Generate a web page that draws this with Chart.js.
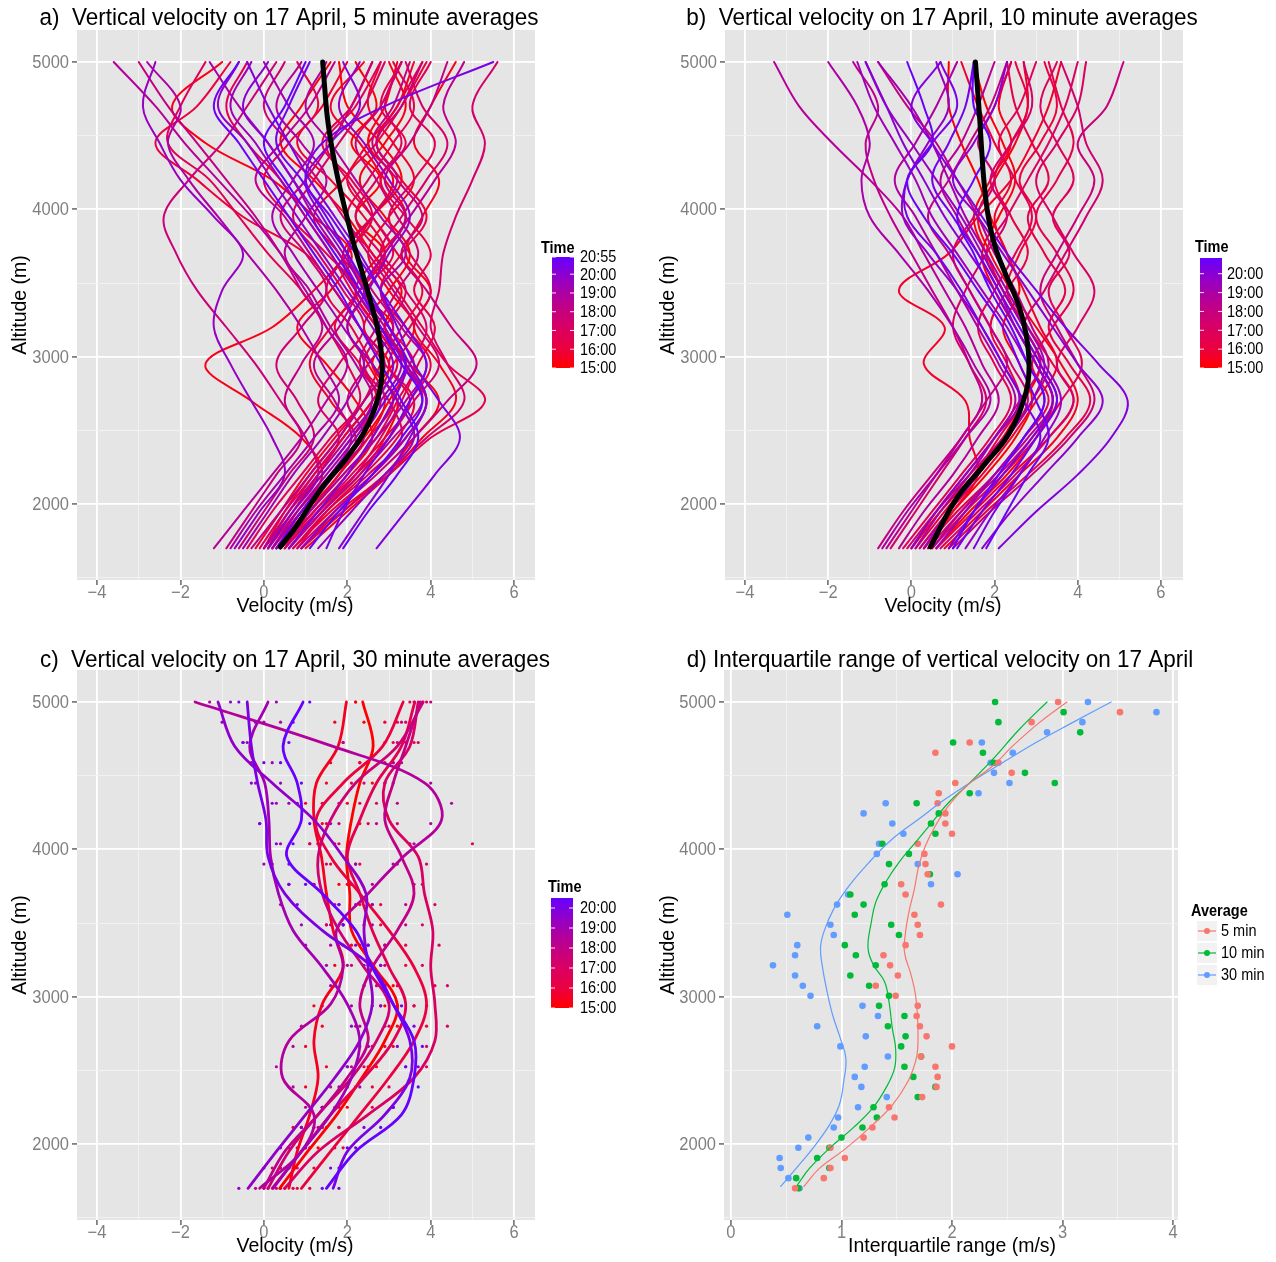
<!DOCTYPE html>
<html>
<head>
<meta charset="utf-8">
<title>Vertical velocity on 17 April</title>
<script src="https://cdn.jsdelivr.net/npm/chart.js"></script>
<style>
  html, body { margin: 0; padding: 0; background: #ffffff; }
  body { position: relative; width: 1276px; height: 1262px; overflow: hidden; }
  canvas { position: absolute; }
</style>
</head>
<body>
<canvas id="pa" width="648" height="640" style="left:0;top:0"></canvas>
<canvas id="pb" width="628" height="640" style="left:648px;top:0"></canvas>
<canvas id="pc" width="648" height="622" style="left:0;top:640px"></canvas>
<canvas id="pd" width="628" height="622" style="left:648px;top:640px"></canvas>
<script>
// ---------------------------------------------------------------------------
// Data
// ---------------------------------------------------------------------------

// Altitude levels (m) at which each velocity profile is given
const altA = [1700, 1950, 2200, 2450, 2700, 2950, 3200, 3450, 3700, 3950, 4200, 4450, 4700, 5000];

// a) 5 minute averages: start time of each profile and its velocities (m/s)
const timesA = ['15:00','15:05','15:10','15:15','15:20','15:25','15:30','15:35','15:40','15:45','15:50','15:55',
  '16:05','16:10','16:15','16:20','16:25','16:30','16:35','16:40','16:45','16:55','17:00','17:10','17:15','17:25',
  '17:30','17:40','17:45','17:50','17:55','18:00','18:10','18:15','18:25','18:30','18:40','18:45','18:55','19:00',
  '19:10','19:15','19:25','19:35','19:40','19:45','19:55','20:05','20:15','20:25','20:35','20:45','20:55'];
const velA = [
  [0.6, 1.4, 2.3, 2.9, 3.2, 2.6, 3.1, 2.4, 2.9, 2.2, 2.8, 2.1, 2.7, 2.2],
  [0.3, 0.9, 1.6, 2.4, 3.0, 3.4, 2.8, 2.2, 1.9, 2.6, 3.3, 2.8, 2.0, 1.8],
  [0.9, 1.8, 2.9, 3.6, 4.2, 3.5, 2.9, 3.3, 2.6, 2.0, 1.2, 0.4, 0.9, 1.6],
  [0.1, 0.7, 1.3, 1.9, 2.6, 3.0, 2.4, 3.0, 3.5, 2.9, 2.3, 2.9, 3.4, 3.0],
  [0.4, 1.2, 2.0, 2.6, 2.2, 1.5, 0.8, 1.6, 2.1, 1.2, 0.2, -1.4, -2.2, -1.0],
  [0.2, 0.8, 1.4, 0.9, -0.3, -1.4, 0.2, 1.2, 2.0, 2.6, 3.1, 2.5, 2.9, 3.2],
  [1.0, 2.0, 3.0, 3.8, 4.6, 4.2, 3.6, 4.0, 3.4, 3.8, 4.2, 3.6, 4.0, 4.6],
  [0.5, 1.1, 1.8, 2.5, 2.9, 2.5, 2.0, 2.4, 1.8, 1.2, 1.9, 2.5, 3.2, 3.6],
  [0.0, 0.5, 1.1, 1.8, 2.4, 3.1, 3.6, 3.0, 2.5, 3.0, 3.6, 3.1, 2.5, 2.8],
  [0.7, 1.6, 2.6, 3.4, 3.9, 3.3, 2.7, 2.2, 2.8, 3.4, 2.9, 2.3, 1.6, 2.4],
  [0.3, 1.0, 1.8, 2.2, 1.6, 1.1, 1.6, 2.3, 2.9, 2.4, 1.6, 0.8, 1.4, 2.0],
  [-0.2, 0.4, 1.0, 1.7, 2.4, 2.8, 3.3, 3.8, 3.2, 2.6, 2.0, 2.7, 3.3, 3.9],
  [0.8, 1.5, 2.4, 3.2, 3.6, 2.9, 2.3, 1.7, 1.0, -0.5, -1.6, -2.6, -1.6, -0.8],
  [0.4, 1.3, 2.2, 3.0, 3.5, 4.0, 3.4, 2.8, 3.3, 3.9, 3.3, 2.7, 3.2, 3.8],
  [0.1, 0.6, 1.4, 2.1, 2.7, 2.3, 1.7, 2.2, 1.5, 0.6, 0.0, 0.6, 1.3, 0.8],
  [0.6, 1.4, 2.2, 2.8, 3.3, 3.7, 4.1, 3.6, 4.0, 3.4, 2.8, 3.4, 2.8, 3.3],
  [0.2, 0.9, 1.7, 2.5, 3.1, 2.6, 2.1, 1.5, 2.0, 2.6, 2.1, 1.4, 2.1, 2.6],
  [0.9, 1.9, 3.0, 4.0, 5.3, 4.4, 3.8, 3.2, 2.6, 2.0, 2.5, 3.1, 3.6, 3.1],
  [0.0, 0.6, 1.2, 1.9, 2.6, 3.2, 2.7, 2.1, 1.6, 1.0, 0.4, -0.4, -0.9, -0.4],
  [0.5, 1.3, 2.1, 2.9, 3.5, 3.0, 3.5, 4.0, 3.5, 3.0, 3.6, 4.1, 3.5, 4.0],
  [-0.4, 0.2, 0.9, 1.6, 2.3, 2.0, 1.5, 0.9, 0.1, -0.6, -1.3, -2.3, -2.0, -1.4],
  [0.3, 1.1, 1.9, 2.7, 3.2, 3.6, 3.0, 2.5, 3.1, 2.6, 2.0, 1.5, 2.2, 2.8],
  [0.7, 1.5, 2.5, 3.3, 3.0, 2.4, 2.9, 3.4, 2.8, 2.2, 2.7, 3.3, 2.9, 3.3],
  [-0.1, 0.5, 1.2, 1.8, 1.3, 1.8, 2.4, 1.9, 1.3, 0.7, 1.2, 1.8, 2.4, 2.9],
  [0.4, 1.2, 2.0, 2.6, 3.1, 3.5, 3.9, 3.4, 2.8, 3.3, 3.9, 4.4, 3.8, 3.4],
  [0.9, 1.9, 2.9, 3.9, 4.8, 4.4, 4.0, 4.2, 4.3, 4.6, 5.0, 5.3, 5.0, 5.6],
  [0.1, 0.8, 1.6, 2.3, 2.8, 2.3, 2.7, 3.2, 3.7, 3.2, 2.7, 2.2, 2.8, 3.3],
  [0.5, 1.3, 2.2, 3.0, 3.6, 4.2, 3.7, 3.1, 2.5, 1.9, 1.3, 0.6, 0.0, 0.5],
  [-0.6, 0.0, 0.6, 1.2, 0.8, 0.3, 0.9, 1.5, 1.0, 0.4, 1.0, 1.6, 2.1, 2.6],
  [0.0, 0.7, 1.3, 1.0, 0.4, -0.2, -0.9, -1.6, -2.1, -2.4, -1.8, -1.0, -0.4, 0.3],
  [0.3, 1.0, 1.7, 2.4, 2.0, 2.5, 3.1, 2.6, 2.0, 2.6, 3.2, 2.7, 3.3, 3.8],
  [0.8, 1.7, 2.7, 3.6, 4.4, 5.1, 4.5, 3.9, 3.3, 3.8, 3.2, 2.6, 3.1, 3.5],
  [-0.9, -0.3, 0.3, 0.9, 0.5, 0.9, 1.4, 0.9, 0.4, -0.2, -0.9, -1.6, -2.3, -3.0],
  [0.2, 0.9, 1.6, 2.1, 1.7, 1.2, 1.8, 2.3, 2.9, 3.4, 2.9, 3.5, 4.0, 4.4],
  [-0.3, 0.4, 1.1, 1.8, 2.4, 2.9, 2.3, 1.7, 1.1, 0.5, -0.2, 0.4, 1.1, 1.7],
  [0.6, 1.4, 2.3, 3.1, 3.8, 3.4, 2.9, 2.4, 2.9, 3.5, 4.1, 4.6, 4.3, 4.8],
  [-1.2, -0.5, 0.2, 0.9, 1.5, 2.0, 1.5, 1.0, 0.4, -0.3, -1.1, -1.9, -2.6, -3.6],
  [0.0, 0.6, 1.3, 2.0, 2.6, 2.2, 1.6, 1.1, 0.5, 1.0, 1.5, 0.9, 0.3, 0.9],
  [0.4, 1.1, 1.9, 2.7, 3.4, 3.9, 3.3, 2.8, 3.4, 2.8, 2.2, 1.6, 1.0, 1.5],
  [-0.8, -0.2, 0.5, 1.2, 1.8, 1.4, 0.9, 0.3, -0.4, -1.1, -1.8, -2.3, -2.0, -2.8],
  [0.2, 0.8, 1.5, 2.2, 2.8, 3.3, 2.8, 2.3, 1.8, 1.2, 0.7, 0.1, -0.6, -1.3],
  [-0.5, 0.1, 0.7, 1.4, 2.0, 2.4, 1.9, 1.3, 0.7, 0.2, 0.7, 1.2, 0.6, 0.0],
  [0.9, 1.7, 2.6, 3.4, 3.9, 3.4, 2.8, 2.2, 1.6, 1.0, 0.4, -0.2, -0.8, -0.3],
  [1.3, 2.1, 2.9, 3.6, 3.2, 2.6, 2.0, 2.5, 3.0, 3.5, 3.0, 2.4, 1.8, 2.3],
  [-0.7, -0.1, 0.5, 0.2, -0.3, -0.8, -1.2, -1.0, -0.5, -1.2, -2.0, -2.5, -2.9, -2.6],
  [0.1, 0.7, 1.4, 2.1, 2.7, 3.1, 2.6, 2.0, 1.4, 0.8, 0.2, -0.4, -1.1, -0.6],
  [1.8, 2.4, 3.0, 3.5, 3.9, 3.5, 3.0, 2.4, 1.9, 1.3, 0.7, 0.1, -0.5, 0.1],
  [0.6, 1.3, 2.0, 2.6, 3.1, 3.4, 3.0, 2.5, 2.0, 1.4, 1.0, 1.6, 2.3, 1.9],
  [2.7, 3.4, 4.1, 4.7, 4.2, 3.6, 3.2, 2.8, 2.3, 1.7, 1.1, 0.6, 0.1, -0.4],
  [1.5, 1.9, 2.4, 3.0, 3.5, 3.9, 3.4, 2.8, 2.2, 1.6, 1.0, 1.4, 2.9, 5.5],
  [0.3, 0.9, 1.6, 2.3, 2.9, 3.4, 3.0, 2.5, 2.0, 1.5, 0.9, 0.3, 0.6, 1.1],
  [1.9, 2.5, 3.2, 3.7, 3.3, 2.8, 2.3, 1.8, 1.2, 0.6, 0.0, -0.6, -1.2, -0.6],
  [1.1, 1.8, 2.6, 3.3, 3.8, 3.3, 2.8, 2.3, 1.7, 1.1, 0.5, 0.0, 0.5, 1.0]
];
// a) smoothed mean profile
const meanAltA = [1710, 1850, 2000, 2140, 2300, 2480, 2650, 2819, 2977, 3160, 3384, 3550, 3750, 3950, 4176, 4403, 4629, 4855, 5000];
const meanVelA = [0.39, 0.78, 1.12, 1.47, 1.95, 2.39, 2.66, 2.81, 2.83, 2.75, 2.55, 2.38, 2.17, 1.99, 1.80, 1.64, 1.52, 1.45, 1.41];

// b) 10 minute averages
const timesB = ['15:00','15:10','15:20','15:30','15:40','15:50','16:00','16:10','16:20','16:30','16:40','16:50',
  '17:00','17:10','17:20','17:30','17:40','17:50','18:00','18:10','18:20','18:30','18:40','18:50',
  '19:00','19:10','19:20','19:30','19:40','19:50','20:00','20:10','20:20','20:30','20:40','20:50'];
const velB = [
  [0.3, 1.0, 1.8, 2.5, 2.9, 2.6, 2.2, 2.6, 2.3, 1.9, 1.6, 1.2, 0.9, 0.9],
  [0.6, 1.4, 2.3, 3.0, 3.4, 3.0, 2.5, 2.0, 1.7, 2.1, 2.5, 2.2, 1.8, 1.5],
  [0.0, 0.7, 1.5, 2.2, 2.7, 3.1, 2.7, 2.2, 1.8, 1.5, 1.9, 2.4, 2.1, 2.4],
  [0.8, 1.7, 2.6, 3.5, 4.0, 3.6, 3.0, 2.4, 1.9, 1.6, 2.0, 2.5, 2.8, 2.7],
  [0.4, 1.0, 1.6, 1.4, 1.3, 0.3, 0.8, -0.3, 0.9, 1.6, 2.4, 2.9, 3.3, 3.6],
  [0.2, 0.9, 1.7, 2.4, 3.0, 3.5, 3.1, 2.7, 2.3, 2.0, 2.4, 2.0, 1.6, 1.2],
  [0.6, 1.5, 2.4, 3.3, 3.9, 3.4, 2.8, 2.3, 2.6, 3.0, 2.6, 3.1, 3.5, 3.2],
  [0.1, 0.8, 1.5, 2.1, 2.6, 2.3, 1.9, 2.3, 2.8, 2.4, 2.0, 2.4, 2.8, 2.5],
  [0.9, 1.8, 2.8, 3.7, 4.3, 3.8, 3.3, 3.7, 3.2, 2.8, 3.3, 2.9, 2.5, 2.3],
  [0.3, 1.1, 2.0, 2.7, 3.3, 2.9, 3.4, 3.9, 3.5, 3.0, 3.5, 3.9, 3.6, 3.3],
  [-0.2, 0.5, 1.2, 1.9, 2.4, 2.0, 1.6, 2.0, 2.5, 2.9, 2.5, 2.1, 2.6, 3.0],
  [0.5, 1.3, 2.2, 3.0, 3.6, 4.1, 3.7, 3.3, 3.8, 3.4, 3.9, 3.5, 3.1, 3.5],
  [0.0, 0.6, 1.3, 2.0, 2.6, 3.1, 2.7, 2.2, 1.8, 2.3, 2.8, 3.3, 3.7, 4.0],
  [0.7, 1.6, 2.5, 3.3, 3.9, 3.5, 4.0, 4.4, 3.9, 3.4, 3.0, 3.5, 4.0, 4.2],
  [-0.5, 0.1, 0.7, 1.3, 1.8, 1.4, 1.0, 1.3, 1.8, 2.3, 1.9, 2.4, 2.9, 2.7],
  [0.4, 1.2, 2.1, 2.9, 3.5, 3.1, 2.7, 3.2, 3.7, 4.2, 4.6, 4.2, 4.0, 3.6],
  [-0.1, 0.6, 1.4, 2.2, 2.8, 2.4, 1.9, 1.4, 1.0, 1.5, 2.0, 1.6, 2.0, 2.4],
  [1.0, 1.9, 2.9, 3.8, 4.4, 4.0, 3.5, 3.1, 3.5, 4.0, 4.4, 4.0, 4.7, 5.1],
  [-0.8, -0.2, 0.5, 1.2, 1.8, 2.3, 1.9, 1.4, 0.9, 0.4, 0.9, 1.4, 1.9, 2.3],
  [0.2, 0.9, 1.6, 2.3, 2.9, 3.3, 2.9, 2.5, 2.0, 1.6, 1.1, 0.6, -0.1, -0.8],
  [-0.6, 0.0, 0.6, 1.2, 1.7, 1.4, 1.0, 0.5, 0.0, -0.5, -0.9, -1.1, -0.8, -1.4],
  [0.5, 1.2, 2.0, 2.8, 3.4, 3.0, 2.5, 2.1, 1.6, 1.1, 0.7, 1.2, 1.6, 2.0],
  [-0.3, 0.3, 1.0, 1.6, 2.1, 1.7, 1.3, 0.8, 0.3, -0.2, -1.0, -1.9, -2.7, -3.3],
  [0.1, 0.7, 1.4, 2.0, 2.5, 2.1, 1.6, 1.1, 0.6, 0.1, -0.4, 0.1, 0.6, 1.1],
  [-0.7, -0.1, 0.6, 1.3, 1.9, 1.5, 1.0, 0.4, -0.3, -1.0, -1.2, -1.0, -1.3, -2.0],
  [0.3, 0.9, 1.6, 2.3, 2.9, 3.2, 2.8, 2.3, 1.8, 1.3, 0.9, 0.5, 0.0, -0.8],
  [0.6, 1.3, 2.0, 2.7, 3.2, 2.8, 2.3, 1.7, 1.1, 0.5, 0.1, -0.4, -0.9, -1.3],
  [1.3, 1.9, 2.6, 3.2, 3.6, 3.2, 2.7, 2.2, 1.7, 1.2, 0.6, 0.0, -0.6, -1.1],
  [0.0, 0.6, 1.3, 2.0, 2.6, 2.2, 1.7, 1.1, 0.4, -0.2, -0.1, 0.4, 0.9, 0.6],
  [1.7, 2.4, 3.2, 4.0, 4.6, 4.0, 3.4, 2.8, 2.2, 1.6, 1.0, 1.5, 2.0, 2.3],
  [0.9, 1.5, 2.2, 2.9, 3.4, 3.0, 2.5, 2.0, 1.4, 0.8, 0.3, -0.2, -0.6, -1.1],
  [2.1, 3.0, 4.0, 4.8, 5.2, 4.5, 3.7, 3.0, 2.3, 1.7, 1.1, 0.5, 0.0, 0.7],
  [1.5, 2.0, 2.6, 3.1, 2.7, 2.2, 1.7, 1.2, 0.6, -0.1, -0.1, 0.5, 1.1, 0.7],
  [1.1, 1.7, 2.4, 3.0, 3.5, 3.1, 2.6, 2.1, 1.6, 1.0, 0.5, 0.9, 1.3, 1.5],
  [1.8, 2.3, 2.8, 3.3, 3.0, 2.6, 2.2, 1.6, 1.0, 0.3, -0.1, 0.5, 0.3, -0.1],
  [1.0, 1.5, 2.1, 2.7, 3.2, 2.8, 2.4, 1.9, 1.5, 1.1, 1.5, 1.9, 1.5, 1.5]
];
const meanAltB = [1710, 2027, 2253, 2480, 2753, 2932, 3150, 3350, 3550, 3750, 3950, 4176, 4403, 4629, 4855, 5000];
const meanVelB = [0.46, 1.06, 1.71, 2.35, 2.75, 2.83, 2.76, 2.58, 2.28, 2.01, 1.85, 1.75, 1.69, 1.64, 1.58, 1.54];

// c) 30 minute averages: smoothed profiles and the raw values behind them
const timesC = ['15:00','15:30','16:00','16:30','17:00','17:30','18:00','18:30','19:00','19:30','20:00','20:30'];
const velC = [
  [0.38, 1.05, 1.75, 2.35, 2.90, 3.20, 2.65, 2.10, 2.06, 1.98, 2.10, 2.30, 2.62, 2.37],
  [0.60, 0.80, 1.10, 1.30, 1.20, 1.40, 1.90, 1.66, 1.50, 1.38, 1.20, 1.26, 1.78, 1.98],
  [0.90, 1.60, 2.30, 3.00, 3.60, 3.90, 3.60, 3.00, 2.30, 1.60, 1.25, 1.90, 2.85, 3.34],
  [0.20, 0.90, 1.60, 2.40, 3.10, 3.40, 3.00, 2.60, 2.30, 2.00, 2.30, 2.70, 3.30, 3.62],
  [0.50, 1.30, 2.50, 3.60, 4.10, 4.10, 4.00, 4.05, 3.85, 3.70, 3.00, 2.90, 3.50, 3.70],
  [0.10, 0.60, 1.30, 2.10, 2.70, 3.00, 2.40, 1.80, 1.40, 1.30, 1.60, 2.20, 3.20, 3.82],
  [0.00, 0.50, 1.30, 2.00, 2.50, 2.30, 2.60, 3.20, 3.60, 3.30, 2.90, 3.10, 3.40, 3.75],
  [-0.10, 0.90, 1.20, 0.45, 0.60, 1.60, 1.90, 1.74, 2.50, 3.34, 4.26, 3.86, 1.64, -1.65],
  [0.22, 0.90, 1.60, 2.10, 2.30, 2.00, 1.40, 0.70, 0.35, 0.16, 0.12, 0.02, -0.34, 0.10],
  [-0.38, 0.30, 1.00, 1.70, 2.30, 2.60, 2.50, 2.40, 2.45, 1.90, 1.20, 0.20, -0.70, -1.10],
  [1.66, 2.00, 2.90, 3.50, 3.50, 3.10, 2.60, 1.40, 0.50, 0.10, 0.05, -0.15, -0.30, -0.40],
  [1.50, 2.20, 3.30, 3.60, 3.60, 3.10, 2.60, 2.20, 1.40, 0.55, 0.90, 0.80, 0.46, 0.94]
];
const altDotsC = [1700, 1838, 1975, 2113, 2250, 2388, 2525, 2663, 2800, 2938, 3075, 3213, 3350,
  3488, 3625, 3763, 3900, 4038, 4175, 4313, 4450, 4588, 4725, 4863, 5000];
const dotsC = [
  [0.5, 0.6, 1.3, 1.4, 2.0, 2.0, 2.7, 2.6, 3.2, 2.9, 3.1, 2.5, 2.5, 1.9, 2.3, 1.8, 2.2, 1.7, 2.3, 2.0, 2.6, 2.3, 2.9, 2.4, 2.2],
  [0.8, 0.4, 1.0, 0.7, 1.4, 1.0, 1.5, 1.0, 1.4, 1.2, 1.7, 1.7, 2.1, 1.5, 1.8, 1.2, 1.6, 1.1, 1.4, 1.0, 1.5, 1.6, 1.9, 1.7, 2.2],
  [1.1, 1.2, 1.9, 1.8, 2.6, 2.6, 3.4, 3.1, 3.9, 3.6, 4.1, 3.4, 3.4, 2.8, 2.8, 2.1, 2.0, 1.3, 1.5, 1.4, 2.1, 2.3, 3.1, 2.9, 3.5],
  [0.0, 0.7, 0.6, 1.4, 1.4, 2.2, 2.4, 2.9, 2.9, 3.6, 3.2, 2.8, 2.9, 2.4, 2.6, 2.0, 2.3, 1.8, 2.5, 2.3, 2.9, 2.9, 3.6, 3.2, 3.8],
  [0.7, 0.8, 1.7, 1.8, 3.1, 3.0, 3.9, 3.9, 4.4, 3.9, 4.4, 3.8, 4.2, 3.8, 4.1, 3.6, 3.9, 5.0, 3.2, 2.7, 3.1, 3.1, 3.7, 3.4, 3.9],
  [0.3, 0.2, 1.0, 0.9, 1.7, 1.6, 2.5, 2.3, 3.0, 2.8, 2.7, 2.1, 2.3, 1.5, 1.7, 1.2, 1.5, 1.1, 1.8, 1.8, 2.4, 2.5, 3.4, 3.3, 4.0],
  [-0.2, 0.4, 0.6, 1.2, 1.4, 2.0, 2.1, 2.6, 2.3, 2.6, 2.4, 2.9, 2.9, 3.4, 3.4, 3.8, 3.2, 3.5, 2.7, 3.2, 2.9, 3.3, 3.2, 3.6, 3.6],
  [0.1, 0.6, 0.8, 1.3, 1.0, 0.7, 0.3, 0.7, 0.9, 1.4, 1.7, 2.0, 1.6, 1.9, 2.2, 2.6, 3.1, 3.6, 4.0, 4.5, 4.0, 3.1, 1.9, 0.4, -1.3],
  [0.4, 0.5, 1.1, 1.5, 1.8, 2.3, 2.0, 2.5, 2.2, 2.1, 1.6, 1.5, 1.0, 0.9, 0.4, 0.6, 0.0, 0.4, -0.1, 0.3, -0.2, 0.2, -0.5, 0.0, 0.3],
  [-0.6, 0.0, 0.4, 0.9, 1.4, 1.8, 2.0, 2.5, 2.1, 2.8, 2.4, 2.8, 2.2, 2.6, 2.6, 2.1, 2.2, 1.3, 1.6, 0.6, 0.4, -0.3, -0.4, -1.0, -0.8],
  [1.8, 1.6, 2.2, 2.4, 3.1, 3.4, 3.7, 3.2, 3.6, 3.2, 2.9, 2.6, 1.9, 1.6, 0.8, 0.6, 0.2, 0.3, -0.1, 0.2, -0.3, 0.0, -0.5, -0.2, -0.6],
  [1.4, 1.8, 2.0, 2.8, 3.1, 3.7, 3.4, 3.8, 3.4, 3.3, 2.9, 2.4, 2.5, 1.9, 1.8, 1.0, 0.6, 0.7, 1.1, 0.8, 0.9, 0.4, 0.6, 0.7, 1.1]
];

// d) interquartile range of the velocity at each level, per averaging period
const altD = [5000, 4931, 4863, 4794, 4725, 4656, 4588, 4519, 4450, 4381, 4313, 4244, 4175, 4106, 4038, 3969,
  3900, 3831, 3763, 3694, 3625, 3556, 3488, 3419, 3350, 3281, 3213, 3144, 3075, 3006, 2938, 2869, 2800,
  2731, 2663, 2594, 2525, 2456, 2388, 2319, 2250, 2181, 2113, 2044, 1975, 1906, 1838, 1769, 1700];
const iqr5 = [2.96, 3.52, 2.72, null, 2.16, 1.85, 2.42, 2.54, 2.03, 1.88, 1.87, 1.94, 1.94, 2.00, 1.69, 1.75,
  1.76, 1.78, 1.54, 1.58, 1.90, 1.66, 1.69, 1.71, 1.58, 1.38, 1.44, 1.51, 1.31, 1.49, 1.69, 1.68, 1.71,
  1.77, 2.00, 1.72, 1.85, 1.87, 1.86, 1.73, 1.43, 1.48, 1.28, 1.20, 0.90, 1.03, 0.90, 0.84, 0.58];
const iqr10 = [2.39, 3.01, 2.42, 3.16, 2.01, 2.28, 2.38, 2.66, 2.93, 2.16, 1.68, 1.88, 1.81, 1.85, 1.37, 1.61,
  1.43, 1.80, 1.39, 1.08, 1.20, 1.12, 1.45, 1.52, 1.03, 1.13, 1.31, 1.08, 1.25, 1.43, 1.34, 1.57, 1.42,
  1.58, 1.54, 1.72, 1.57, 1.65, 1.85, 1.69, 1.29, 1.32, 1.19, 1.00, 0.89, 0.78, 0.89, 0.59, 0.61];
const iqr30 = [3.23, 3.85, 3.18, 2.86, 2.27, 2.55, 2.35, 2.38, 2.52, 2.24, 1.40, 1.20, 1.46, 1.56, 1.34, 1.32,
  1.69, 2.05, 1.81, 1.06, 0.96, 0.51, 0.90, 0.93, 0.60, 0.58, 0.38, 0.58, 0.65, 0.72, 1.19, 1.33, 0.78,
  1.22, 0.99, 1.42, 1.21, 1.12, 1.18, 1.41, 1.15, 0.97, 0.93, 0.70, 0.61, 0.44, 0.45, 0.52, 0.62];
// smoothed fits through the interquartile ranges
const smoothAlt5 = [1713, 1835, 1971, 2129, 2265, 2423, 2559, 2649, 2830, 3011, 3147, 3303, 3438, 3574, 3732, 3890, 4025, 4160, 4296, 4436, 4567, 4702, 4860, 5000];
const smooth5 = [0.66, 0.80, 1.04, 1.28, 1.46, 1.60, 1.67, 1.69, 1.69, 1.67, 1.63, 1.57, 1.58, 1.61, 1.66, 1.70, 1.76, 1.85, 1.97, 2.14, 2.37, 2.55, 2.79, 3.04];
const smoothAlt10 = [1722, 1835, 1971, 2107, 2242, 2378, 2514, 2649, 2785, 2966, 3102, 3215, 3330, 3506, 3641, 3777, 3912, 4048, 4183, 4318, 4436, 4612, 4815, 5000];
const smooth10 = [0.60, 0.71, 0.89, 1.10, 1.28, 1.40, 1.48, 1.49, 1.46, 1.43, 1.39, 1.29, 1.24, 1.27, 1.31, 1.40, 1.52, 1.67, 1.82, 1.97, 2.14, 2.37, 2.61, 2.86];
const smoothAlt30 = [1713, 1835, 1971, 2129, 2265, 2423, 2582, 2717, 2876, 3034, 3192, 3328, 3438, 3596, 3754, 3912, 4070, 4206, 4341, 4465, 4589, 4725, 4860, 5000];
const smooth30 = [0.45, 0.59, 0.74, 0.89, 0.98, 1.02, 1.04, 0.99, 0.92, 0.87, 0.83, 0.81, 0.84, 0.93, 1.07, 1.25, 1.46, 1.70, 1.94, 2.19, 2.46, 2.76, 3.09, 3.44];

// Axis ticks (grid positions, labelled majors)
const velGrid = [-4, -3, -2, -1, 0, 1, 2, 3, 4, 5, 6];
const velMajor = [-4, -2, 0, 2, 4, 6];
const velLabels = ['\u22124', '\u22122', '0', '2', '4', '6'];
const iqrGrid = [0, 0.5, 1, 1.5, 2, 2.5, 3, 3.5, 4];
const iqrMajor = [0, 1, 2, 3, 4];
const iqrLabels = ['0', '1', '2', '3', '4'];
const altGrid = [1500, 2000, 2500, 3000, 3500, 4000, 4500, 5000];
const altMajor = [2000, 3000, 4000, 5000];
const altLabels = ['2000', '3000', '4000', '5000'];

// Legend breaks
const legendTimesA = ['15:00', '16:00', '17:00', '18:00', '19:00', '20:00', '20:55'];
const legendTimesB = ['15:00', '16:00', '17:00', '18:00', '19:00', '20:00'];
const legendTimesC = ['15:00', '16:00', '17:00', '18:00', '19:00', '20:00'];
const averageNames = ['5 min', '10 min', '30 min'];
const averageColours = ['#F8766D', '#00BA38', '#619CFF'];

// ---------------------------------------------------------------------------
// Helpers
// ---------------------------------------------------------------------------
const FONT = '"Liberation Sans", Arial, Helvetica, sans-serif';
const STRETCH = 1.08;
const GREY_TEXT = '#7F7F7F';

// red (early) to violet (late) colour ramp
const rampStops = [
  [0.00, [255, 0, 0]],
  [0.17, [236, 0, 62]],
  [0.34, [220, 0, 94]],
  [0.51, [198, 0, 126]],
  [0.68, [172, 0, 164]],
  [0.85, [138, 0, 210]],
  [1.00, [102, 0, 255]]
];

function toMin(t) { const p = t.split(':'); return +p[0] * 60 + +p[1]; }

function ramp(f) {
  f = Math.max(0, Math.min(1, f));
  for (let i = 1; i < rampStops.length; i++) {
    const [f1, c1] = rampStops[i];
    const [f0, c0] = rampStops[i - 1];
    if (f <= f1) {
      const k = (f - f0) / (f1 - f0);
      const c = c0.map((v, j) => Math.round(v + (c1[j] - v) * k));
      return `rgb(${c[0]},${c[1]},${c[2]})`;
    }
  }
  const c = rampStops[rampStops.length - 1][1];
  return `rgb(${c[0]},${c[1]},${c[2]})`;
}

function timeColour(t, t0, t1) { return ramp((toMin(t) - toMin(t0)) / (toMin(t1) - toMin(t0))); }

function profile(alts, vals) {
  const pts = [];
  vals.forEach((v, i) => { if (v !== null && v !== undefined) pts.push({ x: v, y: alts[i] }); });
  return pts;
}

function txt(ctx, s, x, y, o) {
  ctx.save();
  ctx.translate(x, y);
  if (o.rot) ctx.rotate(o.rot);
  ctx.scale(1, STRETCH);
  ctx.font = `${o.bold ? 'bold ' : ''}${o.size}px ${FONT}`;
  ctx.fillStyle = o.color || '#000000';
  ctx.textAlign = o.align || 'left';
  ctx.textBaseline = o.base || 'alphabetic';
  ctx.fillText(s, 0, 0);
  ctx.restore();
}

function lineSet(data, colour, width, tension) {
  return { data, borderColor: colour, backgroundColor: colour, borderWidth: width,
    showLine: true, pointRadius: 0, tension: tension === undefined ? 0.35 : tension, fill: false,
    borderCapStyle: 'round', borderJoinStyle: 'round' };
}
function dotSet(data, colour, radius) {
  return { data, borderColor: colour, backgroundColor: colour, borderWidth: 0,
    showLine: false, pointRadius: radius, pointHoverRadius: radius };
}

function drawTimeLegend(ctx, lg) {
  const span = lg.bottom - lg.top;
  const t0 = toMin(lg.tMin), t1 = toMin(lg.tMax);
  const grad = ctx.createLinearGradient(0, lg.bottom, 0, lg.top);
  rampStops.forEach(([f, c]) => grad.addColorStop(f, `rgb(${c[0]},${c[1]},${c[2]})`));
  ctx.fillStyle = grad;
  ctx.fillRect(lg.barX, lg.top, lg.barW, span);
  txt(ctx, 'Time', lg.titleX, lg.titleY, { size: 14.5, bold: true });
  lg.labels.forEach(t => {
    const y = lg.bottom - (toMin(t) - t0) / (t1 - t0) * span;
    ctx.strokeStyle = 'rgba(255,255,255,0.9)';
    ctx.lineWidth = 1;
    ctx.beginPath();
    ctx.moveTo(lg.barX, y); ctx.lineTo(lg.barX + 4, y);
    ctx.moveTo(lg.barX + lg.barW - 4, y); ctx.lineTo(lg.barX + lg.barW, y);
    ctx.stroke();
    txt(ctx, t, lg.labelX, y + 1, { size: 14.5, base: 'middle' });
  });
}

function drawAverageLegend(ctx) {
  txt(ctx, 'Average', 543, 276, { size: 14.5, bold: true });
  averageNames.forEach((name, i) => {
    const top = 281 + i * 22;
    ctx.fillStyle = '#F2F2F2';
    ctx.fillRect(549, top, 20, 20);
    ctx.strokeStyle = averageColours[i];
    ctx.lineWidth = 1.2;
    ctx.beginPath(); ctx.moveTo(550, top + 10); ctx.lineTo(568, top + 10); ctx.stroke();
    ctx.fillStyle = averageColours[i];
    ctx.beginPath(); ctx.arc(559, top + 10, 3, 0, Math.PI * 2); ctx.fill();
    txt(ctx, name, 573, top + 11, { size: 14.5, base: 'middle' });
  });
}

// ---------------------------------------------------------------------------
// Panel builder
// ---------------------------------------------------------------------------
function makePanel(p) {
  const canvas = document.getElementById(p.id);
  const W = canvas.width, H = canvas.height;
  const isMajorX = v => p.xMajor.includes(v);
  const isMajorY = v => altMajor.includes(v);

  const panelPlugin = {
    id: 'panel_' + p.id,
    beforeDraw(chart) {
      const a = chart.chartArea, ctx = chart.ctx;
      ctx.save();
      ctx.fillStyle = '#FFFFFF';
      ctx.fillRect(0, 0, W, H);
      ctx.fillStyle = '#E5E5E5';
      ctx.fillRect(a.left, a.top, a.right - a.left, a.bottom - a.top);
      ctx.restore();
    },
    afterDraw(chart) {
      const ctx = chart.ctx, xs = chart.scales.x, ys = chart.scales.y;
      p.xMajor.forEach((v, i) => txt(ctx, p.xLabels[i], xs.getPixelForValue(v), 598,
        { size: 16.5, color: GREY_TEXT, align: 'center' }));
      altMajor.forEach((v, i) => txt(ctx, altLabels[i], p.box.l - 8, ys.getPixelForValue(v) + 1,
        { size: 16.5, color: GREY_TEXT, align: 'right', base: 'middle' }));
      txt(ctx, p.title, p.titleX, p.titleY, { size: 22.5, align: 'center' });
      txt(ctx, p.xTitle, p.xTitleX, 612, { size: 19.5, align: 'center' });
      txt(ctx, 'Altitude (m)', 20, 305, { size: 19.5, align: 'center', base: 'middle', rot: -Math.PI / 2 });
      p.legend(ctx);
    }
  };

  return new Chart(canvas, {
    type: 'scatter',
    data: { datasets: p.datasets },
    options: {
      responsive: false,
      animation: false,
      devicePixelRatio: 1,
      events: [],
      layout: { padding: { top: p.box.t, right: W - p.box.r, left: 0, bottom: 0 } },
      plugins: { legend: { display: false }, tooltip: { enabled: false } },
      scales: {
        x: {
          type: 'linear', min: p.xMin, max: p.xMax,
          afterBuildTicks: s => { s.ticks = p.xGrid.map(v => ({ value: v })); },
          afterFit: s => { s.height = H - p.box.b; },
          ticks: { display: false },
          border: { display: false },
          grid: {
            color: c => isMajorX(c.tick.value) ? '#FFFFFF' : '#F2F2F2',
            lineWidth: c => isMajorX(c.tick.value) ? 1.8 : 0.9,
            tickColor: c => isMajorX(c.tick.value) ? GREY_TEXT : 'rgba(0,0,0,0)',
            tickLength: 5, drawTicks: true
          }
        },
        y: {
          type: 'linear', min: 1485, max: 5217,
          afterBuildTicks: s => { s.ticks = altGrid.map(v => ({ value: v })); },
          afterFit: s => { s.width = p.box.l; },
          ticks: { display: false },
          border: { display: false },
          grid: {
            color: c => isMajorY(c.tick.value) ? '#FFFFFF' : '#F2F2F2',
            lineWidth: c => isMajorY(c.tick.value) ? 1.8 : 0.9,
            tickColor: c => isMajorY(c.tick.value) ? GREY_TEXT : 'rgba(0,0,0,0)',
            tickLength: 5, drawTicks: true
          }
        }
      }
    },
    plugins: [panelPlugin]
  });
}

// ---------------------------------------------------------------------------
// Datasets (later profiles drawn on top; first dataset is drawn last)
// ---------------------------------------------------------------------------
const tA0 = timesA[0], tA1 = timesA[timesA.length - 1];
const setsA = [lineSet(profile(meanAltA, meanVelA), '#000000', 5, 0.4)]
  .concat(timesA.map((t, i) => lineSet(profile(altA, velA[i]), timeColour(t, tA0, tA1), 2)).reverse());

const tB0 = timesB[0], tB1 = timesB[timesB.length - 1];
const setsB = [lineSet(profile(meanAltB, meanVelB), '#000000', 5, 0.4)]
  .concat(timesB.map((t, i) => lineSet(profile(altA, velB[i]), timeColour(t, tB0, tB1), 2)).reverse());

const tC0 = timesC[0], tC1 = timesC[timesC.length - 1];
const linesC = timesC.map((t, i) => lineSet(profile(altA, velC[i]), timeColour(t, tC0, tC1), 2.8)).reverse();
const pointsC = timesC.map((t, i) => dotSet(profile(altDotsC, dotsC[i]), timeColour(t, tC0, tC1), 1.6)).reverse();
const setsC = linesC.concat(pointsC);

const setsD = [
  lineSet(profile(smoothAlt5, smooth5), averageColours[0], 1.2, 0.4),
  lineSet(profile(smoothAlt10, smooth10), averageColours[1], 1.2, 0.4),
  lineSet(profile(smoothAlt30, smooth30), averageColours[2], 1.2, 0.4),
  dotSet(profile(altD, iqr5), averageColours[0], 3.3),
  dotSet(profile(altD, iqr10), averageColours[1], 3.3),
  dotSet(profile(altD, iqr30), averageColours[2], 3.3)
];

// ---------------------------------------------------------------------------
// The four panels
// ---------------------------------------------------------------------------
makePanel({
  id: 'pa', box: { l: 77, r: 535, t: 30, b: 580 },
  xMin: -4.48, xMax: 6.5, xGrid: velGrid, xMajor: velMajor, xLabels: velLabels,
  title: 'a)  Vertical velocity on 17 April, 5 minute averages', titleX: 289, titleY: 25,
  xTitle: 'Velocity (m/s)', xTitleX: 295, datasets: setsA,
  legend: ctx => drawTimeLegend(ctx, { titleX: 541, titleY: 253, barX: 552, barW: 22, top: 257, bottom: 368,
    tMin: tA0, tMax: tA1, labels: legendTimesA, labelX: 580 })
});

makePanel({
  id: 'pb', box: { l: 77, r: 535, t: 30, b: 580 },
  xMin: -4.48, xMax: 6.53, xGrid: velGrid, xMajor: velMajor, xLabels: velLabels,
  title: 'b)  Vertical velocity on 17 April, 10 minute averages', titleX: 294, titleY: 25,
  xTitle: 'Velocity (m/s)', xTitleX: 295, datasets: setsB,
  legend: ctx => drawTimeLegend(ctx, { titleX: 547, titleY: 252, barX: 552, barW: 22, top: 258, bottom: 368,
    tMin: tB0, tMax: tB1, labels: legendTimesB, labelX: 579 })
});

makePanel({
  id: 'pc', box: { l: 77, r: 535, t: 30, b: 580 },
  xMin: -4.48, xMax: 6.5, xGrid: velGrid, xMajor: velMajor, xLabels: velLabels,
  title: 'c)  Vertical velocity on 17 April, 30 minute averages', titleX: 295, titleY: 27,
  xTitle: 'Velocity (m/s)', xTitleX: 295, datasets: setsC,
  legend: ctx => drawTimeLegend(ctx, { titleX: 548, titleY: 252, barX: 551, barW: 22, top: 258, bottom: 368,
    tMin: tC0, tMax: tC1, labels: legendTimesC, labelX: 580 })
});

makePanel({
  id: 'pd', box: { l: 76, r: 530, t: 30, b: 580 },
  xMin: -0.063, xMax: 4.045, xGrid: iqrGrid, xMajor: iqrMajor, xLabels: iqrLabels,
  title: 'd) Interquartile range of vertical velocity on 17 April', titleX: 292, titleY: 27,
  xTitle: 'Interquartile range (m/s)', xTitleX: 304, datasets: setsD,
  legend: ctx => drawAverageLegend(ctx)
});
</script>
</body>
</html>
